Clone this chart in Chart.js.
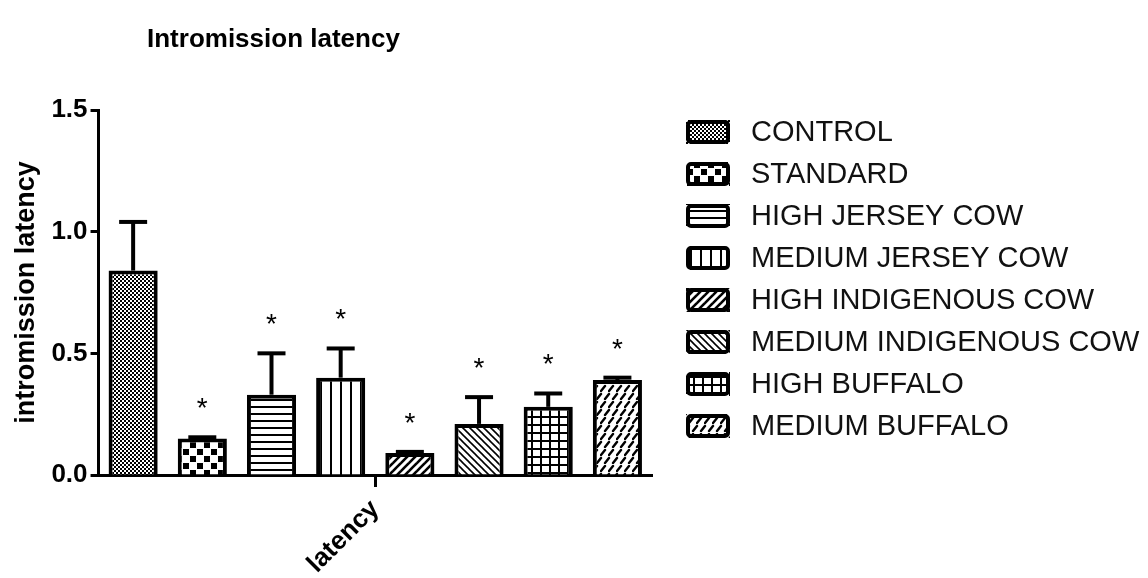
<!DOCTYPE html>
<html>
<head>
<meta charset="utf-8">
<title>Intromission latency</title>
<script src="https://cdn.jsdelivr.net/npm/chart.js@4.4.1/dist/chart.umd.min.js"></script>
<style>
  html, body { margin: 0; padding: 0; background: #fff; }
  #wrap { position: relative; width: 1148px; height: 578px; }
</style>
</head>
<body>
<div id="wrap"><canvas id="chart"></canvas></div>
<script>
// groups, one bar each, all under the single "latency" category
const groups = [
  'CONTROL',
  'STANDARD',
  'HIGH JERSEY COW',
  'MEDIUM JERSEY COW',
  'HIGH INDIGENOUS COW',
  'MEDIUM INDIGENOUS COW',
  'HIGH BUFFALO',
  'MEDIUM BUFFALO',
]
const categories = ['latency']
const means = [0.84, 0.15, 0.33, 0.40, 0.09, 0.21, 0.28, 0.39]
const sem = [0.20, 0.005, 0.17, 0.12, 0.005, 0.11, 0.055, 0.01]
const significant = [false, true, true, true, true, true, true, true]
const yTicks = [0, 0.5, 1.0, 1.5]

const FONT = "'Liberation Sans', Arial, Helvetica, sans-serif"
Chart.defaults.font.family = FONT
Chart.defaults.color = '#000'

const canvas = document.getElementById('chart')
const ctx = canvas.getContext('2d')

// small tiles turned into canvas patterns for the bar fills
function makePattern(w, h, draw) {
  const c = document.createElement('canvas')
  c.width = w
  c.height = h
  const g = c.getContext('2d')
  g.fillStyle = '#fff'
  g.fillRect(0, 0, w, h)
  g.fillStyle = '#000'
  g.strokeStyle = '#000'
  draw(g, w, h)
  return ctx.createPattern(c, 'repeat')
}

function seg(g, x1, y1, x2, y2) {
  g.beginPath()
  g.moveTo(x1, y1)
  g.lineTo(x2, y2)
  g.stroke()
}

const patterns = [
  // fine stipple
  makePattern(4, 4, g => {
    g.fillRect(0, 0, 2, 2)
    g.fillRect(2, 2, 2, 2)
  }),
  // coarse checker
  makePattern(14, 14, g => {
    g.fillRect(1, 1, 6, 6)
    g.fillRect(8, 8, 6, 6)
  }),
  // horizontal lines
  makePattern(8, 7, (g, w) => g.fillRect(0, 0, w, 2)),
  // vertical lines
  makePattern(10, 8, (g, w, h) => g.fillRect(0, 0, 2, h)),
  // thick forward diagonals
  makePattern(8, 8, g => {
    g.lineWidth = 2.6
    seg(g, -1, 9, 9, -1)
    seg(g, -1, 1, 1, -1)
    seg(g, 7, 9, 9, 7)
  }),
  // thin back diagonals
  makePattern(7, 7, g => {
    g.lineWidth = 1.6
    seg(g, -1, -1, 8, 8)
    seg(g, -1, 6, 1, 8)
    seg(g, 6, -1, 8, 1)
  }),
  // square grid
  makePattern(9, 8, (g, w, h) => {
    g.fillRect(0, 0, 2, h)
    g.fillRect(0, 0, w, 2)
  }),
  // staggered short dashes
  makePattern(8, 16, g => {
    g.lineWidth = 2.4
    g.lineCap = 'round'
    seg(g, 1, 7, 5, 2)
    seg(g, 5, 15, 9, 10)
    seg(g, -3, 15, 1, 10)
  }),
]

const datasets = groups.map((name, i) => ({
  label: name,
  data: [means[i]],
  backgroundColor: patterns[i],
  borderColor: '#000',
  borderWidth: 4,
  borderSkipped: 'start',
  barPercentage: 0.71,
  categoryPercentage: 1.0,
}))

// mean + SEM whiskers (upper only) and significance stars
const errorBars = {
  id: 'errorBars',
  afterDatasetsDraw(chart) {
    const { ctx } = chart
    const y = chart.scales.y
    ctx.save()
    ctx.strokeStyle = '#000'
    ctx.fillStyle = '#000'
    groups.forEach((_, i) => {
      const bar = chart.getDatasetMeta(i).data[0]
      if (!bar) return
      const yTop = y.getPixelForValue(means[i] + sem[i])
      const yMean = y.getPixelForValue(means[i])
      ctx.lineWidth = 4
      ctx.beginPath()
      ctx.moveTo(bar.x, yMean)
      ctx.lineTo(bar.x, yTop)
      ctx.stroke()
      ctx.beginPath()
      ctx.moveTo(bar.x - 14, yTop)
      ctx.lineTo(bar.x + 14, yTop)
      ctx.stroke()
      if (significant[i]) {
        ctx.font = `28px ${FONT}`
        ctx.textAlign = 'center'
        ctx.textBaseline = 'alphabetic'
        ctx.fillText('*', bar.x, yTop - 20)
      }
    })
    ctx.restore()
  },
}

// chart title and the pattern legend on the right
const decorations = {
  id: 'decorations',
  afterDraw(chart) {
    const { ctx } = chart
    ctx.save()
    ctx.fillStyle = '#000'
    ctx.font = `bold 26px ${FONT}`
    ctx.textAlign = 'left'
    ctx.textBaseline = 'alphabetic'
    ctx.fillText('Intromission latency', 147, 47)

    const boxX = 686, boxW = 44, boxH = 24, firstY = 132, rowGap = 42
    ctx.font = `29px ${FONT}`
    ctx.textBaseline = 'middle'
    groups.forEach((name, i) => {
      const cy = firstY + i * rowGap
      ctx.fillStyle = patterns[i]
      ctx.fillRect(boxX, cy - boxH / 2, boxW, boxH)
      ctx.lineWidth = 4
      ctx.strokeStyle = '#000'
      ctx.beginPath()
      ctx.roundRect(boxX + 2, cy - boxH / 2 + 2, boxW - 4, boxH - 4, 3)
      ctx.stroke()
      ctx.fillStyle = '#111'
      ctx.fillText(name, 751, cy + 1)
    })
    ctx.restore()
  },
}

new Chart(ctx, {
  type: 'bar',
  data: { labels: categories, datasets },
  options: {
    responsive: true,
    maintainAspectRatio: false,
    animation: false,
    layout: { padding: { left: 10, right: 496, top: 110, bottom: 0 } },
    plugins: {
      legend: { display: false },
      title: { display: false },
      tooltip: { enabled: false },
    },
    scales: {
      x: {
        offset: true,
        afterFit: scale => {
          scale.height = 103
        },
        grid: {
          display: true,
          offset: false,
          drawOnChartArea: false,
          drawTicks: true,
          tickLength: 12,
          tickWidth: 3,
          tickColor: '#000',
        },
        border: { display: true, color: '#000', width: 3 },
        ticks: {
          color: '#000',
          font: { size: 26, weight: 'bold' },
          minRotation: 45,
          maxRotation: 45,
          padding: 7,
        },
      },
      y: {
        min: 0,
        max: 1.5,
        afterBuildTicks: scale => {
          scale.ticks = yTicks.map(v => ({ value: v }))
        },
        grid: {
          drawOnChartArea: false,
          tickLength: 8,
          tickWidth: 3,
          tickColor: '#000',
        },
        border: { display: true, color: '#000', width: 3 },
        ticks: {
          color: '#000',
          font: { size: 26, weight: 'bold' },
          padding: 3,
          callback: v => Number(v).toFixed(1),
        },
        title: {
          display: true,
          text: 'intromission latency',
          color: '#000',
          font: { size: 27, weight: 'bold' },
          padding: { top: 0, bottom: 6 },
        },
      },
    },
  },
  plugins: [errorBars, decorations],
})
</script>
</body>
</html>
